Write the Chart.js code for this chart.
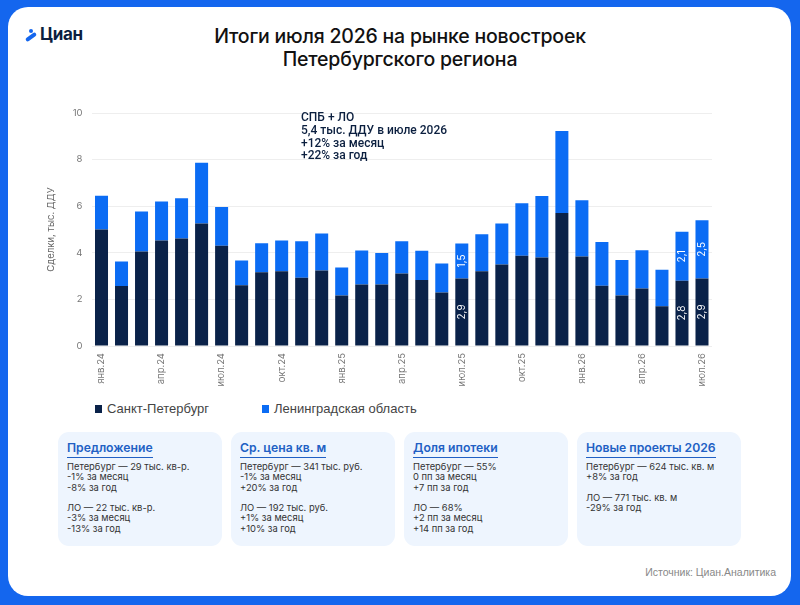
<!DOCTYPE html>
<html lang="ru">
<head>
<meta charset="utf-8">
<script src="https://cdn.jsdelivr.net/npm/chart.js@4.4.1/dist/chart.umd.min.js"></script>
<style>
  html,body{margin:0;padding:0;}
  body{width:800px;height:605px;background:#1466ee;position:relative;overflow:hidden;font-family:Inter,"Liberation Sans",sans-serif;}
  #card{position:absolute;left:8px;top:7px;width:783px;height:589px;background:#fff;border-radius:20px;}
  #logo{position:absolute;left:25px;top:24px;font-family:Inter,sans-serif;font-weight:700;font-size:17px;color:#0b1f3f;letter-spacing:-0.3px;}
  #logo .ic{display:inline-block;width:12px;height:12px;position:relative;vertical-align:-1px;margin-right:3px;}
  #logo .ic i{position:absolute;background:#1466ee;}
  #title{position:absolute;left:0;width:800px;top:25px;text-align:center;font-family:Inter,sans-serif;font-weight:500;font-size:19.5px;line-height:23px;color:#111;letter-spacing:-0.2px;}
  #chartWrap{position:absolute;left:0;top:95px;width:800px;height:300px;}
  #annot{position:absolute;left:301px;top:111px;font-family:Roboto,sans-serif;font-weight:500;font-size:12px;line-height:12.8px;color:#0b1f3f;}
  #legend{position:absolute;left:95px;top:401px;font-family:"Liberation Sans",Arial,sans-serif;font-size:13px;color:#444;}
  #legend span.it{position:absolute;white-space:nowrap;top:0;}
  #legend span.sq{display:inline-block;width:7px;height:8px;margin-right:5px;vertical-align:0px;}
  .box{position:absolute;top:432px;width:164px;height:114px;background:#eef5fe;border-radius:11px;}
  .box h3{margin:0;position:absolute;left:9px;top:8px;font-family:Inter,sans-serif;font-weight:600;font-size:12.2px;color:#2160c4;border-bottom:1.2px solid #2160c4;padding-bottom:1px;line-height:16px;}
  .box p{margin:0;position:absolute;left:9px;top:30px;font-family:Inter,sans-serif;font-size:9.4px;line-height:10.3px;color:#333;white-space:pre;}
  #src{position:absolute;right:24px;top:566px;font-family:"Liberation Sans",Arial,sans-serif;font-size:10.5px;color:#888;}
</style>
</head>
<body>
<div id="card"></div>
<div id="logo"><span class="ic"><i style="left:4px;top:0;width:4px;height:4px;border-radius:50%"></i><i style="left:0;width:12px;height:4px;transform:rotate(-35deg);border-radius:2px;top:6px"></i></span>Циан</div>
<div id="title">Итоги июля 2026 на рынке новостроек<br>Петербургского региона</div>
<div id="chartWrap"><canvas id="c"></canvas></div>
<div id="annot">СПБ + ЛО<br>5,4 тыс. ДДУ в июле 2026<br>+12% за месяц<br>+22% за год</div>
<div id="legend"></div>
<div class="box" style="left:58px"><h3>Предложение</h3><p>Петербург — 29 тыс. кв-р.
-1% за месяц
-8% за год

ЛО — 22 тыс. кв-р.
-3% за месяц
-13% за год</p></div>
<div class="box" style="left:231px"><h3>Ср. цена кв. м</h3><p>Петербург — 341 тыс. руб.
-1% за месяц
+20% за год

ЛО — 192 тыс. руб.
+1% за месяц
+10% за год</p></div>
<div class="box" style="left:404px"><h3>Доля ипотеки</h3><p>Петербург — 55%
0 пп за месяц
+7 пп за год

ЛО — 68%
+2 пп за месяц
+14 пп за год</p></div>
<div class="box" style="left:577px"><h3>Новые проекты 2026</h3><p>Петербург — 624 тыс. кв. м
+8% за год

ЛО — 771 тыс. кв. м
-29% за год</p></div>
<div id="src">Источник: Циан.Аналитика</div>
<script>
const months = ['янв.24','фев.24','мар.24','апр.24','май.24','июн.24','июл.24','авг.24','сен.24','окт.24','ноя.24','дек.24',
  'янв.25','фев.25','мар.25','апр.25','май.25','июн.25','июл.25','авг.25','сен.25','окт.25','ноя.25','дек.25',
  'янв.26','фев.26','мар.26','апр.26','май.26','июн.26','июл.26'];
const spb = [5.0,2.57,4.06,4.53,4.61,5.26,4.3,2.61,3.16,3.21,2.93,3.24,
  2.17,2.64,2.64,3.11,2.83,2.3,2.9,3.21,3.5,3.87,3.8,5.71,
  3.84,2.59,2.17,2.47,1.71,2.8,2.9];
const lo = [1.45,1.06,1.71,1.67,1.73,2.61,1.67,1.06,1.25,1.32,1.57,1.59,
  1.2,1.46,1.35,1.39,1.26,1.24,1.5,1.59,1.76,2.26,2.64,3.52,
  2.42,1.87,1.52,1.64,1.56,2.1,2.5];
const labeledIdx = [18, 29, 30];
const yTicks = [0,2,4,6,8,10];
const seriesNames = ['Санкт-Петербург','Ленинградская область'];
const colors = ['#0a2249','#0b6cf4'];

// HTML legend
const lg = document.getElementById('legend');
[0,167].forEach((x,i)=>{
  const s=document.createElement('span'); s.className='it'; s.style.left=x+'px';
  s.innerHTML='<span class="sq" style="background:'+colors[i]+'"></span>'+seriesNames[i];
  lg.appendChild(s);
});

const fmt = v => v.toFixed(1).replace('.', ',');
const valueLabels = {
  id:'valueLabels',
  afterDatasetsDraw(chart){
    const ctx=chart.ctx;
    ctx.save();
    ctx.fillStyle='#ffffff';
    ctx.font='10px Inter, sans-serif';
    ctx.textAlign='center'; ctx.textBaseline='middle';
    chart.data.datasets.forEach((ds,d)=>{
      const meta=chart.getDatasetMeta(d);
      labeledIdx.forEach(i=>{
        const el=meta.data[i];
        const cy=(el.y+el.base)/2;
        ctx.save(); ctx.translate(el.x,cy); ctx.rotate(-Math.PI/2);
        ctx.fillText(fmt(ds.data[i]),0,0.5);
        ctx.restore();
      });
    });
    ctx.restore();
  }
};

new Chart(document.getElementById('c'),{
  type:'bar',
  data:{labels:months,datasets:[
    {label:seriesNames[0],data:spb,backgroundColor:colors[0],stack:'s'},
    {label:seriesNames[1],data:lo,backgroundColor:colors[1],stack:'s'}
  ]},
  options:{
    responsive:true,maintainAspectRatio:false,animation:false,
    layout:{padding:{left:41,right:88,top:18,bottom:9}},
    datasets:{bar:{barPercentage:0.65,categoryPercentage:1.0}},
    plugins:{legend:{display:false},tooltip:{enabled:false}},
    scales:{
      x:{stacked:true,
        grid:{display:false,drawTicks:false},border:{display:false},
        afterFit(s){s.height=40;},
        ticks:{autoSkip:false,minRotation:90,maxRotation:90,padding:7,color:'#777',font:{family:'Inter, sans-serif',size:9.5},
          callback(v,i){return i%3===0?this.getLabelForValue(v):'';}}
      },
      y:{stacked:true,min:0,max:10,
        afterFit(s){s.width=50.5;},
        afterBuildTicks(s){s.ticks=yTicks.map(v=>({value:v}));},
        grid:{color:'#eeeeee',drawTicks:false,lineWidth:1},border:{display:false},
        ticks:{padding:9,color:'#777',font:{family:'Inter, sans-serif',size:9.5}},
        title:{display:true,text:'Сделки, тыс. ДДУ',color:'#666',font:{family:'Inter, sans-serif',size:9.5},padding:{top:4,bottom:4}}
      }
    }
  },
  plugins:[valueLabels]
});
</script>
</body>
</html>
